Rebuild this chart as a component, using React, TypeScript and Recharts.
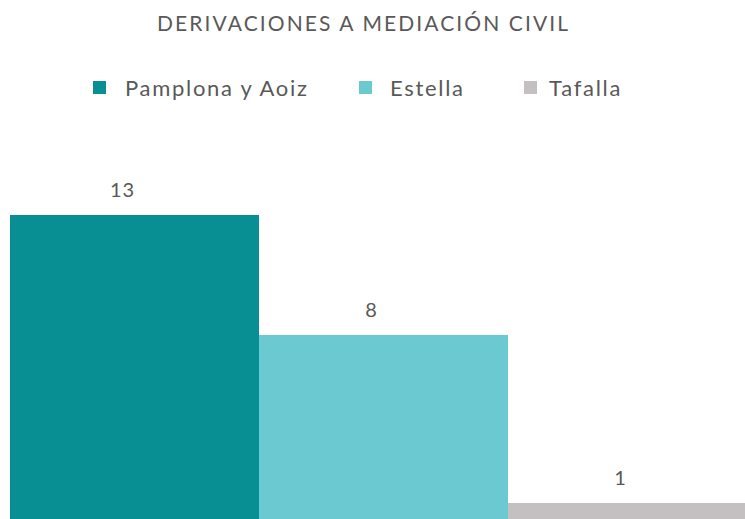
import { BarChart, Bar, XAxis, YAxis, LabelList } from 'recharts';

const categories = ['Mediación civil'];
const pamplona = [13];
const estella = [8];
const tafalla = [1];

const seriesNames = ['Pamplona y Aoiz', 'Estella', 'Tafalla'];
const colors = ['#078f93', '#6bcad1', '#c4bfc0'];

const data = categories.map((name, i) => ({
  name,
  pamplona: pamplona[i],
  estella: estella[i],
  tafalla: tafalla[i],
}));

const FONT = 'Lato, "Open Sans", sans-serif';
const TEXT = '#595959';

// value label sits a bit left of the bar centre, like the original
const renderLabel = (props: any) => {
  const { x, y, width, value } = props;
  return (
    <text
      x={x + width / 2 - 12}
      y={y - 18}
      textAnchor="middle"
      fontSize={20}
      fontFamily={FONT}
      fill={TEXT}
      letterSpacing={1}
    >
      {value}
    </text>
  );
};

const legendItems = [
  { label: seriesNames[0], color: colors[0], left: 93, gap: 19 },
  { label: seriesNames[1], color: colors[1], left: 359, gap: 18 },
  { label: seriesNames[2], color: colors[2], left: 524, gap: 12 },
];

export default function App() {
  return (
    <div
      style={{
        position: 'fixed',
        left: 0,
        top: 0,
        width: 745,
        height: 519,
        overflow: 'hidden',
        background: '#fff',
        fontFamily: FONT,
      }}
    >
      <div
        style={{
          position: 'absolute',
          top: 10,
          left: 157,
          fontSize: 21,
          letterSpacing: 2.1,
          color: TEXT,
          whiteSpace: 'nowrap',
        }}
      >
        DERIVACIONES A MEDIACIÓN CIVIL
      </div>
      {legendItems.map((item) => (
        <div
          key={item.label}
          style={{
            position: 'absolute',
            top: 74,
            left: item.left,
            display: 'flex',
            alignItems: 'center',
            fontSize: 22,
            letterSpacing: 1.7,
            color: TEXT,
            whiteSpace: 'nowrap',
          }}
        >
          <span
            style={{
              display: 'inline-block',
              width: 13,
              height: 13,
              background: item.color,
              marginRight: item.gap,
            }}
          />
          {item.label}
        </div>
      ))}
      <div style={{ position: 'absolute', left: 0, top: 0 }}>
        <BarChart
          width={760}
          height={530}
          data={data}
          margin={{ top: 191, right: 3, bottom: 3, left: 10 }}
          barCategoryGap={0}
          barGap={0}
        >
          <XAxis dataKey="name" hide />
          <YAxis hide domain={[0, 14]} />
          <Bar dataKey="pamplona" name={seriesNames[0]} fill={colors[0]} isAnimationActive={false}>
            <LabelList dataKey="pamplona" content={renderLabel} />
          </Bar>
          <Bar dataKey="estella" name={seriesNames[1]} fill={colors[1]} isAnimationActive={false}>
            <LabelList dataKey="estella" content={renderLabel} />
          </Bar>
          <Bar dataKey="tafalla" name={seriesNames[2]} fill={colors[2]} isAnimationActive={false}>
            <LabelList dataKey="tafalla" content={renderLabel} />
          </Bar>
        </BarChart>
      </div>
    </div>
  );
}
